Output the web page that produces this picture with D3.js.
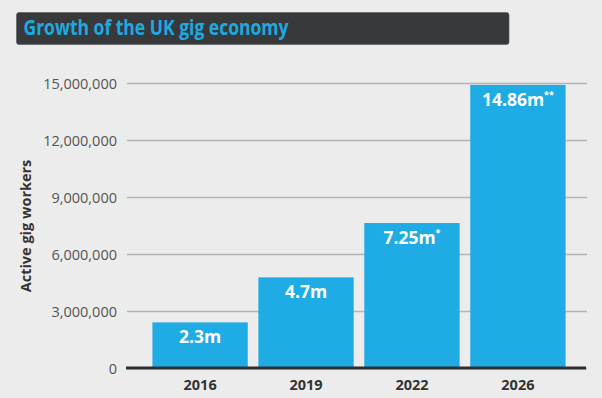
<!DOCTYPE html>
<html>
<head>
<meta charset="utf-8">
<script src="https://cdn.jsdelivr.net/npm/d3@7"></script>
<style>
  body { margin: 0; background: #ececec; }
  svg { display: block; }
  .grid line { stroke: #b4b4b4; stroke-width: 1.5; }
  .grid text { fill: #555; font-family: "Open Sans", sans-serif; font-size: 14.5px; }
  .xaxis text { fill: #333; font-family: "Open Sans", sans-serif; font-size: 14.5px; font-weight: bold; }
</style>
</head>
<body>
<svg id="chart" width="602" height="398"></svg>
<script>
// data
var years = ["2016", "2019", "2022", "2026"];
var workers = [2400000, 4770000, 7630000, 14900000];
var valueLabels = ["2.3m", "4.7m", "7.25m", "14.86m"];
var footnotes = ["", "", "*", "**"];
var yTicks = [0, 3000000, 6000000, 9000000, 12000000, 15000000];

var data = years.map(function(d, i) {
  return {year: d, value: workers[i], label: valueLabels[i], note: footnotes[i]};
});

var svg = d3.select("#chart");

// plot area (careful: "top" is taken by window.top)
var plotLeft = 127, plotRight = 587, plotTop = 83, plotBottom = 368;

var x = d3.scaleBand()
          .domain(years)
          .range([plotLeft, 591])
          .paddingInner(0.1)
          .paddingOuter(0.24);
var y = d3.scaleLinear()
          .domain([0, 15000000])
          .range([plotBottom, plotTop]);

// title bar
svg.append("rect")
    .attr("x", 16.5).attr("y", 12.5)
    .attr("width", 492.5).attr("height", 32)
    .attr("rx", 2.5)
    .attr("fill", "#37393b")
    .attr("stroke", "#55585a")
    .attr("stroke-width", 0.6);
svg.append("text")
    .attr("x", 23.5).attr("y", 34.5)
    .attr("textLength", 265)
    .attr("lengthAdjust", "spacingAndGlyphs")
    .style("font-family", "'Open Sans', sans-serif")
    .style("font-weight", "bold")
    .style("font-size", "22px")
    .style("fill", "#1ea9e1")
    .text("Growth of the UK gig economy");

// y axis with gridlines
var yAxis = svg.append("g")
    .attr("class", "grid")
    .attr("transform", "translate(" + plotLeft + ",0)")
    .call(d3.axisLeft(y)
            .tickValues(yTicks)
            .tickSize(-(plotRight - plotLeft))
            .tickPadding(10)
            .tickFormat(d3.format(",")));
yAxis.select(".domain").remove();
yAxis.selectAll(".tick text").attr("dy", "0.36em");

// y axis title
svg.append("text")
    .attr("transform", "translate(31," + 226 + ") rotate(-90)")
    .attr("text-anchor", "middle")
    .style("font-family", "'Open Sans', sans-serif")
    .style("font-weight", "bold")
    .style("font-size", "14.5px")
    .style("fill", "#333")
    .text("Active gig workers");

// bars
svg.selectAll(".bar")
    .data(data)
  .enter().append("rect")
    .attr("class", "bar")
    .attr("x", function(d) { return x(d.year); })
    .attr("width", x.bandwidth())
    .attr("y", function(d) { return y(d.value); })
    .attr("height", function(d) { return y(0) - y(d.value); })
    .attr("fill", "#1fabe3");

// value labels inside the bars
var labels = svg.selectAll(".vlabel")
    .data(data)
  .enter().append("text")
    .attr("class", "vlabel")
    .attr("x", function(d) { return x(d.year) + x.bandwidth() / 2; })
    .attr("y", function(d) { return y(d.value) + 21; })
    .attr("text-anchor", "middle")
    .style("font-family", "'Open Sans', sans-serif")
    .style("font-weight", "bold")
    .style("font-size", "17.5px")
    .style("fill", "#fff");
labels.append("tspan").text(function(d) { return d.label; });
labels.append("tspan")
    .attr("dy", -8)
    .style("font-size", "9px")
    .text(function(d) { return d.note; });

// baseline
svg.append("line")
    .attr("x1", 126).attr("x2", 586)
    .attr("y1", y(0)).attr("y2", y(0))
    .attr("stroke", "#2e2e2e")
    .attr("stroke-width", 3);

// x axis labels
var xAxis = svg.append("g")
    .attr("class", "xaxis")
    .attr("transform", "translate(0," + plotBottom + ")")
    .call(d3.axisBottom(x).tickSize(0).tickPadding(12));
xAxis.select(".domain").remove();
</script>
</body>
</html>
